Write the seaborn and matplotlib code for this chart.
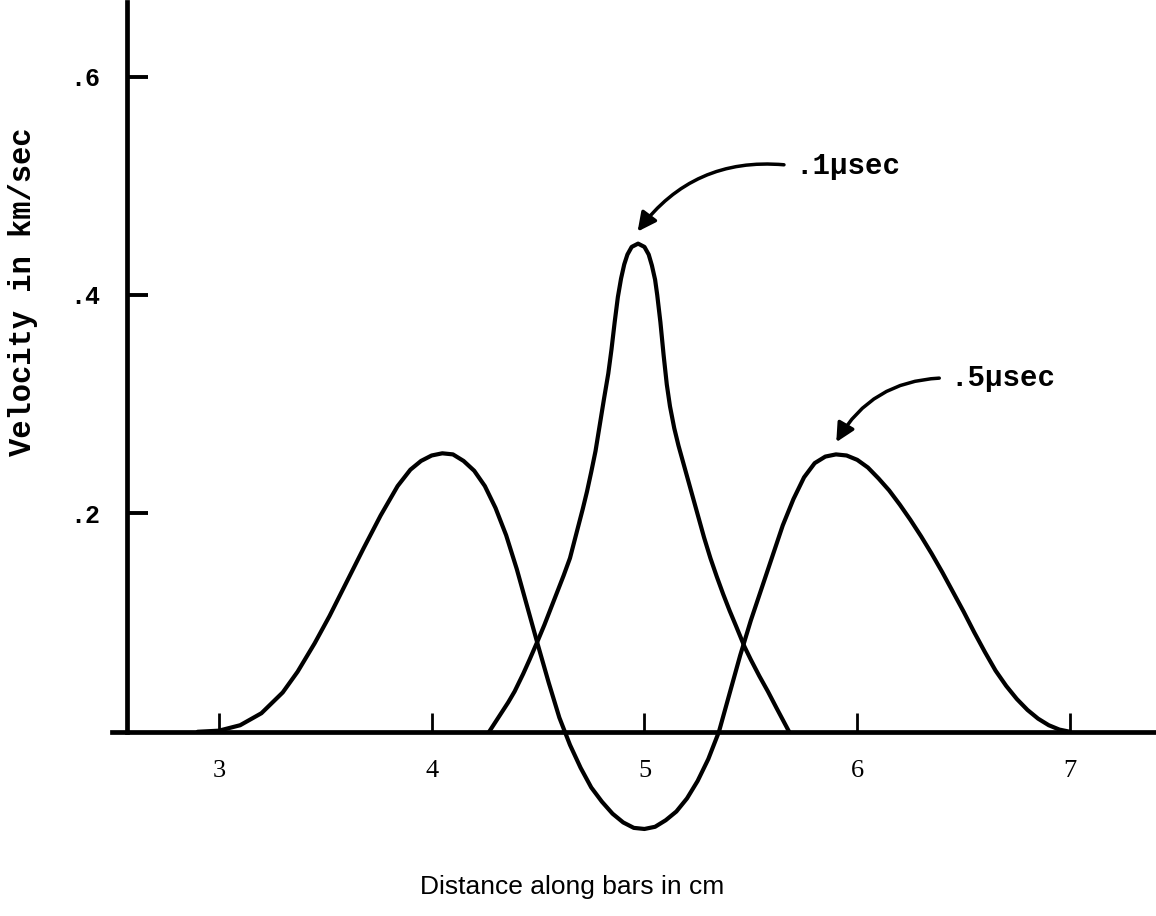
import matplotlib
matplotlib.use("Agg")
import matplotlib.pyplot as plt
import seaborn as sns
import pandas as pd

# ---- data ----
pulse_05_x = [2.90, 3.00, 3.10, 3.20, 3.30, 3.37, 3.45, 3.52, 3.60, 3.68, 3.76, 3.84, 3.90, 3.95,
              4.00, 4.05, 4.10, 4.15, 4.20, 4.25, 4.30, 4.35, 4.40, 4.45, 4.50, 4.55, 4.60, 4.65,
              4.70, 4.75, 4.80, 4.85, 4.90, 4.95, 5.00, 5.05, 5.10, 5.15, 5.20, 5.25, 5.30, 5.35,
              5.40, 5.45, 5.50, 5.55, 5.60, 5.65, 5.70, 5.75, 5.80, 5.85, 5.90, 5.95, 6.00, 6.05,
              6.10, 6.15, 6.20, 6.25, 6.30, 6.35, 6.40, 6.45, 6.50, 6.55, 6.60, 6.65, 6.70, 6.75,
              6.80, 6.85, 6.90, 6.95, 7.00]
pulse_05_y = [0.000, 0.001, 0.006, 0.017, 0.036, 0.055, 0.081, 0.106, 0.137, 0.168, 0.198, 0.225, 0.240, 0.248,
              0.253, 0.255, 0.254, 0.248, 0.239, 0.225, 0.205, 0.180, 0.149, 0.114, 0.079, 0.045, 0.013, -0.012,
              -0.033, -0.051, -0.064, -0.075, -0.083, -0.088, -0.089, -0.087, -0.081, -0.073, -0.061, -0.045, -0.025, 0.000,
              0.035, 0.070, 0.102, 0.131, 0.160, 0.189, 0.213, 0.233, 0.246, 0.252, 0.254, 0.253, 0.249, 0.242,
              0.232, 0.221, 0.208, 0.194, 0.179, 0.163, 0.146, 0.128, 0.110, 0.091, 0.073, 0.056, 0.042, 0.030,
              0.020, 0.012, 0.006, 0.002, 0.000]

pulse_01_x = [4.27, 4.30, 4.33, 4.36, 4.39, 4.43, 4.46, 4.50, 4.53, 4.56, 4.59, 4.62, 4.65, 4.67, 4.69,
              4.71, 4.73, 4.75, 4.77, 4.79, 4.81, 4.83, 4.845, 4.86, 4.875, 4.89, 4.905, 4.92, 4.94, 4.97,
              5.00, 5.02, 5.035, 5.05, 5.06, 5.075, 5.09, 5.105, 5.12, 5.14, 5.16, 5.18, 5.20, 5.22, 5.25,
              5.28, 5.31, 5.34, 5.37, 5.40, 5.43, 5.47, 5.50, 5.54, 5.58, 5.62, 5.65, 5.68]
pulse_01_y = [0.000, 0.009, 0.018, 0.027, 0.037, 0.053, 0.066, 0.084, 0.098, 0.113, 0.128, 0.143, 0.159, 0.174, 0.189,
              0.204, 0.220, 0.238, 0.257, 0.281, 0.305, 0.328, 0.350, 0.375, 0.398, 0.415, 0.428, 0.437, 0.444, 0.447,
              0.444, 0.437, 0.427, 0.414, 0.400, 0.375, 0.345, 0.318, 0.298, 0.278, 0.262, 0.248, 0.234, 0.220, 0.199,
              0.178, 0.159, 0.142, 0.126, 0.111, 0.097, 0.078, 0.066, 0.051, 0.037, 0.022, 0.011, 0.000]

x_ticks = [3, 4, 5, 6, 7]
x_tick_labels = ["3", "4", "5", "6", "7"]
y_ticks = [0.2, 0.4, 0.6]
y_tick_labels = [".2", ".4", ".6"]

label_01 = ".1\u00b5sec"
label_05 = ".5\u00b5sec"
x_title = "Distance along bars in cm"
y_title = "Velocity in km/sec"

# ---- figure ----
sns.set_theme(style="white")
plt.rcParams["font.family"] = ["Liberation Mono", "DejaVu Sans"]
plt.rcParams["text.color"] = "black"
plt.rcParams["axes.labelcolor"] = "black"
plt.rcParams["xtick.color"] = "black"
plt.rcParams["ytick.color"] = "black"

fig = plt.figure(figsize=(11.56, 9.16), dpi=100)
ax = fig.add_axes([0.0973, 0.0819, 0.9027, 0.9156])

df05 = pd.DataFrame({"x": pulse_05_x, "y": pulse_05_y})
df01 = pd.DataFrame({"x": pulse_01_x, "y": pulse_01_y})
sns.lineplot(data=df05, x="x", y="y", sort=False, color="black", linewidth=3.0, ax=ax)
sns.lineplot(data=df01, x="x", y="y", sort=False, color="black", linewidth=3.0, ax=ax)

ax.set_xlim(2.50, 7.404)
ax.set_ylim(-0.10, 0.668)

for s in ["top", "right"]:
    ax.spines[s].set_visible(False)
ax.spines["left"].set_position(("data", 2.568))
ax.spines["left"].set_bounds(0, 0.668)
ax.spines["bottom"].set_position(("data", 0))
for s in ["left", "bottom"]:
    ax.spines[s].set_color("black")
    ax.spines[s].set_linewidth(3.4)

ax.set_xticks(x_ticks)
ax.set_xticklabels(x_tick_labels, fontfamily="Liberation Serif", fontsize=19, color="black")
ax.set_yticks(y_ticks)
ax.set_yticklabels(y_tick_labels, fontfamily="Liberation Mono", fontsize=18,
                   fontweight="bold", color="black")
ax.tick_params(axis="x", which="major", bottom=True, direction="in", length=14, width=2.0,
               color="black", pad=20)
ax.tick_params(axis="y", which="major", left=True, direction="in", length=15, width=2.8,
               color="black", pad=19)

ax.set_xlabel(x_title, fontfamily="Liberation Sans", fontsize=19, color="black")
ax.xaxis.set_label_coords(0.440, -0.040)
ax.set_ylabel(y_title, fontfamily="Liberation Mono", fontsize=22, fontweight="bold", color="black")
ax.yaxis.set_label_coords(-0.071, 0.655)

ax.annotate(label_01, xy=(4.96, 0.456), xytext=(5.71, 0.518),
            fontsize=21, fontfamily=["Liberation Mono", "DejaVu Sans"], fontweight="bold",
            ha="left", va="center", color="black",
            arrowprops=dict(arrowstyle="-|>", connectionstyle="arc3,rad=0.3", color="black",
                            lw=2.5, mutation_scale=28, relpos=(0, 0.5), shrinkA=6, shrinkB=2))
ax.annotate(label_05, xy=(5.895, 0.263), xytext=(6.44, 0.324),
            fontsize=21, fontfamily=["Liberation Mono", "DejaVu Sans"], fontweight="bold",
            ha="left", va="center", color="black",
            arrowprops=dict(arrowstyle="-|>", connectionstyle="arc3,rad=0.3", color="black",
                            lw=2.5, mutation_scale=28, relpos=(0, 0.5), shrinkA=6, shrinkB=2))

ax.grid(False)
fig.savefig("out.png", dpi=100, facecolor="white")
